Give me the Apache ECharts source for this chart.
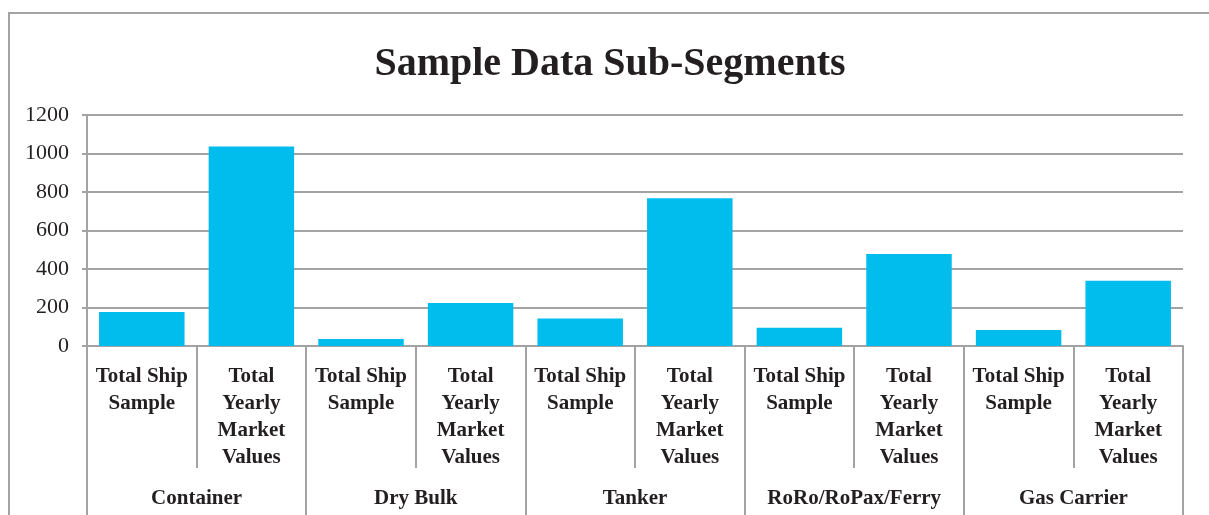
<!DOCTYPE html>
<html>
<head>
<meta charset="utf-8">
<script src="https://cdn.jsdelivr.net/npm/echarts@6/dist/echarts.min.js"></script>
<style>
  html, body { margin: 0; padding: 0; background: #fff; }
  #chart { width: 1209px; height: 515px; }
</style>
</head>
<body>
<div id="chart"></div>
<script>
// sub-segment groups and the two measures inside each
const groups = ['Container', 'Dry Bulk', 'Tanker', 'RoRo/RoPax/Ferry', 'Gas Carrier'];
const measures = ['Total Ship\nSample', 'Total\nYearly\nMarket\nValues'];
const shipSample = [176, 36, 143, 95, 83];
const yearlyMarket = [1036, 223, 767, 478, 339];

const categories = [];
const values = [];
groups.forEach((g, i) => {
  categories.push(measures[0], measures[1]);
  values.push(shipSample[i], yearlyMarket[i]);
});

const grey = '#a3a3a3';
const ink = '#231f20';
const serif = '"Liberation Serif", "Times New Roman", serif';

const chart = echarts.init(document.getElementById('chart'));
chart.setOption({
  animation: false,
  title: {
    text: 'Sample Data Sub-Segments',
    left: 610,
    textAlign: 'center',
    top: 45,
    padding: 0,
    textStyle: { fontFamily: serif, fontSize: 40, fontWeight: 'bold', color: ink }
  },
  graphic: [{
    type: 'polyline',
    silent: true,
    shape: { points: [[9, 520], [9, 13], [1215, 13]] },
    style: { stroke: grey, lineWidth: 2, fill: null }
  }],
  grid: { left: 87, right: 26, top: 115, bottom: 169, containLabel: false },
  xAxis: [{
    type: 'category',
    data: categories,
    position: 'bottom',
    axisLine: { show: true, lineStyle: { color: grey, width: 2 } },
    axisTick: { show: true, interval: 0, length: 122, lineStyle: { color: grey, width: 2 } },
    axisLabel: {
      interval: 0, margin: 17,
      fontFamily: serif, fontSize: 21, fontWeight: 'bold', lineHeight: 27, color: ink
    }
  }, {
    type: 'category',
    data: groups,
    position: 'bottom',
    axisLine: { show: false },
    axisTick: { show: true, interval: 0, length: 175, lineStyle: { color: grey, width: 2 } },
    axisLabel: {
      interval: 0, margin: 142,
      fontFamily: serif, fontSize: 21, fontWeight: 'bold', lineHeight: 21, color: ink
    }
  }],
  yAxis: {
    type: 'value',
    min: 0, max: 1200, interval: 200,
    axisLine: { show: true, lineStyle: { color: grey, width: 2 } },
    axisTick: { show: true, length: 5, lineStyle: { color: grey, width: 2 } },
    axisLabel: {
      margin: 18, fontFamily: serif, fontSize: 22, color: ink,
      formatter: v => String(v)
    },
    splitLine: { lineStyle: { color: grey, width: 2 } }
  },
  series: [{
    type: 'bar',
    xAxisIndex: 0,
    data: values,
    barWidth: '78%',
    itemStyle: { color: '#00bdee' }
  }]
});
</script>
</body>
</html>
